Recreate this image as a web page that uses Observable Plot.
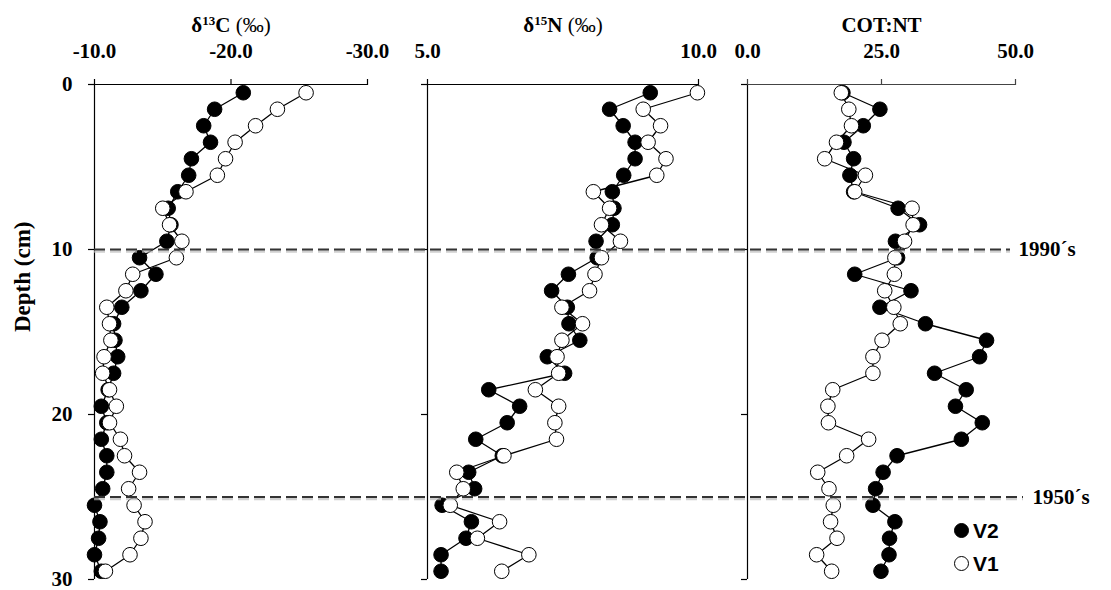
<!DOCTYPE html>
<html><head><meta charset="utf-8">
<script src="https://cdn.jsdelivr.net/npm/d3@7"></script>
<script src="https://cdn.jsdelivr.net/npm/@observablehq/plot@0.6"></script>
<style>
body{margin:0;background:#fff;}
#chart{position:relative;width:1111px;height:590px;overflow:hidden;}
#chart svg{position:absolute;left:0;top:0;}
.legend{position:absolute;left:954px;top:514px;font:bold 21px "Liberation Sans",Arial,sans-serif;color:#000;}
.legend .row{display:flex;align-items:center;height:33px;}
.legend .sw{width:15px;height:15px;border-radius:50%;border:1px solid #000;box-sizing:border-box;margin-right:4px;}
</style></head><body><div id="chart"></div>
<script>
const depth = [0.5,1.5,2.5,3.5,4.5,5.5,6.5,7.5,8.5,9.5,10.5,11.5,12.5,13.5,14.5,15.5,16.5,17.5,18.5,19.5,20.5,21.5,22.5,23.5,24.5,25.5,26.5,27.5,28.5,29.5];
const d13C_V2 = [-20.9,-18.8,-18.0,-18.5,-17.1,-16.9,-16.1,-15.4,-15.6,-15.3,-13.3,-14.5,-13.4,-12.0,-11.4,-11.5,-11.7,-11.4,-11.0,-10.5,-10.9,-10.5,-10.9,-10.9,-10.6,-10.0,-10.4,-10.3,-10.0,-10.5];
const d13C_V1 = [-25.5,-23.4,-21.8,-20.3,-19.6,-19.0,-16.7,-15.0,-15.5,-16.4,-16.0,-12.8,-12.3,-10.9,-11.1,-11.2,-10.7,-10.6,-11.1,-11.6,-11.1,-11.9,-12.2,-13.3,-12.5,-12.9,-13.7,-13.4,-12.6,-10.8];
const d15N_V2 = [9.11,8.36,8.61,8.83,8.83,8.62,8.41,8.44,8.41,8.11,8.13,7.60,7.29,7.58,7.61,7.81,7.21,7.53,6.13,6.70,6.47,5.89,6.38,5.76,5.87,5.27,5.81,5.71,5.25,5.25];
const d15N_V1 = [9.98,8.98,9.30,9.07,9.40,9.23,8.06,8.36,8.21,8.56,8.21,8.09,7.99,7.48,7.86,7.48,7.39,7.42,6.99,7.42,7.35,7.38,6.41,5.54,5.66,5.42,6.33,5.92,6.87,6.37];
const cotnt_V2 = [17.8,24.7,21.6,18.0,19.8,19.1,19.8,28.1,32.1,27.6,28.0,20.0,30.5,24.7,33.2,44.6,43.3,34.9,40.8,38.8,43.8,39.9,27.9,25.3,23.9,23.4,27.5,26.5,26.4,24.9];
const cotnt_V1 = [17.5,18.9,19.4,16.6,14.4,22.0,20.0,30.7,30.9,29.3,27.5,27.4,25.6,27.3,28.5,25.1,23.4,23.4,15.9,15.0,15.1,22.6,18.5,13.1,15.2,16.0,15.5,16.7,12.9,15.7];
const depthTicks = [0,10,20,30];
const periods = [{depth:10,label:"1990´s"},{depth:25,label:"1950´s"}];
const seriesNames = ["V2","V1"];

const W = 1111, H = 590, MT = 84, MB = 11;
const serif = '"Liberation Serif","Times New Roman",serif';
const chart = document.getElementById("chart");

function panel({left, right, domain, ticks, title, v2, v1, labels, axisColor}) {
  const rows2 = depth.map((d,i)=>({depth:d, v:v2[i]}));
  const rows1 = depth.map((d,i)=>({depth:d, v:v1[i]}));
  const marks = [
    Plot.ruleY([0], {stroke: axisColor, strokeWidth: 1.2}),
    Plot.ruleX([domain[0]], {stroke: "#000", strokeWidth: 1.2}),
    Plot.axisX({anchor:"top", ticks, tickFormat: d=>d.toFixed(1), tickSize:6, tickPadding:21,
      fontSize:21, fontWeight:"bold", fontFamily:serif, label:null, stroke: axisColor, strokeWidth:1.2, color:"#000"}),
    Plot.axisY({ticks: depthTicks, tickSize:6, tickPadding:16,
      tickFormat: labels ? (d=>String(d)) : (()=>""), fontSize:21, fontWeight:"bold", fontFamily:serif, label:null, strokeWidth:1.2}),
    Plot.text([title], {frameAnchor:"top", lineAnchor:"middle", dy:-59, fontSize:21, fontWeight:"bold", fontFamily:serif}),
    Plot.line(rows2, {x:"v", y:"depth", stroke:"#000", strokeWidth:1.3}),
    Plot.dot(rows2, {x:"v", y:"depth", r:7.3, fill:"#000", stroke:"#000", strokeWidth:1}),
    Plot.line(rows1, {x:"v", y:"depth", stroke:"#000", strokeWidth:1.3}),
    Plot.dot(rows1, {x:"v", y:"depth", r:7.3, fill:"#fff", stroke:"#000", strokeWidth:1})
  ];
  if (labels) marks.push(Plot.text(["Depth (cm)"], {frameAnchor:"left", dx:-72, rotate:-90, fontSize:23, fontWeight:"bold", fontFamily:serif}));
  const svg = Plot.plot({
    width: W, height: H, marginLeft: left, marginRight: W-right, marginTop: MT, marginBottom: MB,
    x: {domain, axis: null},
    y: {domain: [0,30], reverse: true, axis: null},
    style: {background:"transparent", overflow:"visible", fontFamily: serif, color:"#000"},
    marks
  });
  chart.appendChild(svg);
  return svg;
}

const p1 = panel({left:94, right:367, domain:[-10,-30], ticks:[-10,-20,-30], title:"δ13C (‰)", v2:d13C_V2, v1:d13C_V1, labels:true, axisColor:"#000"});
const p2 = panel({left:427, right:698, domain:[5,10], ticks:[5,10], title:"δ15N (‰)", v2:d15N_V2, v1:d15N_V1, labels:false, axisColor:"#000"});
const p3 = panel({left:747, right:1015, domain:[0,50], ticks:[0,25,50], title:"COT:NT", v2:cotnt_V2, v1:cotnt_V1, labels:false, axisColor:"#444"});

// rich titles with superscripts
function richTitle(svg, base, sup, rest) {
  d3.select(svg).selectAll("text").filter(function(){return this.textContent === base+sup+rest;}).each(function(){
    const t = d3.select(this); t.text("");
    const parts = rest.split(" ");
    t.append("tspan").text(base);
    t.append("tspan").attr("font-size", 13).attr("dy", -7).text(sup);
    t.append("tspan").attr("dy", 7).text(parts[0]);
    t.append("tspan").attr("font-weight", "normal").text(" " + parts.slice(1).join(" "));
  });
}
richTitle(p1, "δ", "13", "C (‰)");
richTitle(p2, "δ", "15", "N (‰)");

// overlay for period markers
const overlay = Plot.plot({
  width: W, height: H, marginLeft: 0, marginRight: 0, marginTop: MT, marginBottom: MB,
  x: {domain:[0, W], axis:null},
  y: {domain:[0,30], reverse: true, axis:null},
  style: {background:"transparent", overflow:"visible", fontFamily: serif},
  marks: [
    Plot.ruleY(periods, {y:"depth", x1:94, x2:(d)=> d.depth===10 ? 1010 : 1023, stroke:"#bbb", strokeWidth:2.5, strokeDasharray:"11,5", dy:2, strokeOpacity:0.7}),
    Plot.ruleY(periods, {y:"depth", x1:94, x2:(d)=> d.depth===10 ? 1010 : 1023, stroke:"#333", strokeWidth:2, strokeDasharray:"11,5"}),
    Plot.text(periods, {y:"depth", x:(d)=> d.depth===10 ? 1018 : 1032, text:"label", textAnchor:"start", fontSize:21, fontWeight:"bold", fontFamily:serif})
  ]
});
chart.appendChild(overlay);

// legend
const lg = document.createElement("div");
lg.className = "legend";
lg.innerHTML = seriesNames.map((n,i)=>`<div class="row"><span class="sw" style="background:${i===0?'#000':'#fff'}"></span>${n}</div>`).join("");
chart.appendChild(lg);
</script></body></html>
